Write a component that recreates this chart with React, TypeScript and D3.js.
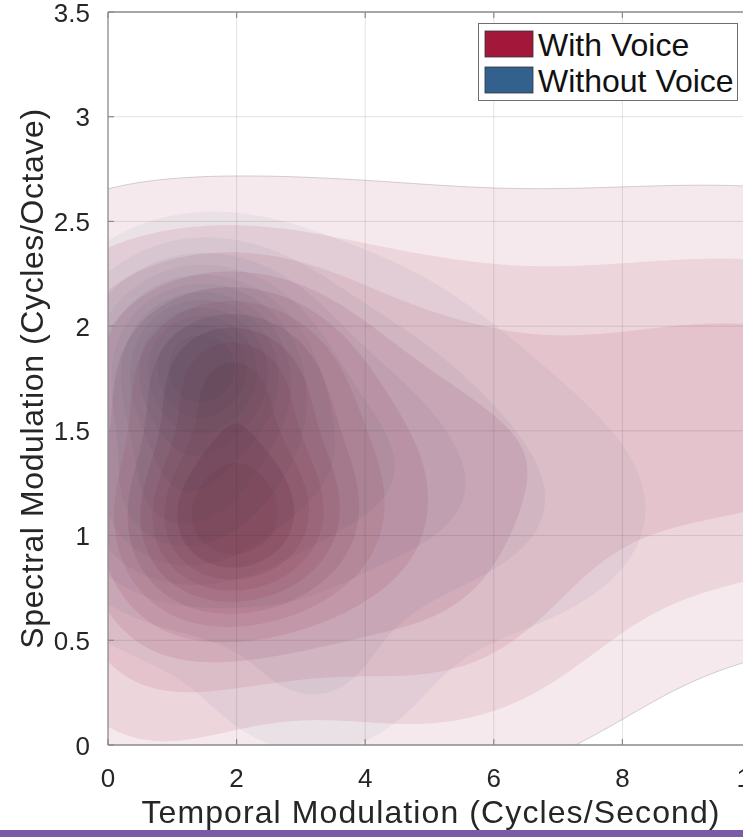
import React, { useMemo } from "react";
import * as d3 from "d3";

const W = 743;
const H = 837;

const xTicks = [0, 2, 4, 6, 8, 10];
const yTicks = [0, 0.5, 1, 1.5, 2, 2.5, 3, 3.5];
const yTickLabels = ["0", "0.5", "1", "1.5", "2", "2.5", "3", "3.5"];

const seriesNames = ["With Voice", "Without Voice"];
const seriesColors = ["#A3173B", "#33618D"];
const seriesAlpha = [0.095, 0.06];

// Kernel components of each density: centre, spread and weight
const withVoiceCx = [1.9, 1.9, 2.5, 6.0, 5.0, 0.5, 11.0, 0.0];
const withVoiceCy = [1.06, 1.8, 1.45, 1.5, 0.55, 0.45, 1.65, 2.0];
const withVoiceSx = [1.15, 1.05, 2.0, 5.0, 2.0, 1.5, 2.5, 1.5];
const withVoiceSy = [0.31, 0.28, 0.6, 0.72, 0.5, 0.55, 0.6, 0.45];
const withVoiceW = [1.0, 0.62, 0.32, 0.36, 0.25, 0.25, 0.2, 0.13];

const withoutVoiceCx = [1.4, 0.9, 2.5, 6.0, 3.2];
const withoutVoiceCy = [1.86, 1.15, 1.45, 1.1, 0.3];
const withoutVoiceSx = [0.95, 1.1, 2.2, 2.2, 1.2];
const withoutVoiceSy = [0.27, 0.33, 0.55, 0.45, 0.3];
const withoutVoiceW = [1.0, 0.42, 0.45, 0.15, 0.15];

// Contour levels as fractions of each density's peak
const levelFractions = [0.07, 0.145, 0.22, 0.295, 0.37, 0.445, 0.52, 0.595, 0.67, 0.745, 0.82, 0.895];

const margin = { left: 108, top: 12, bottom: 92 };
const xDomain = [0, 10];
const yDomain = [0, 3.5];

const grid = { x0: -2, x1: 14, y0: -0.8, y1: 4.2, dx: 0.04, dy: 0.015 };

type Comp = { cx: number[]; cy: number[]; sx: number[]; sy: number[]; w: number[] };

const components: Comp[] = [
  { cx: withVoiceCx, cy: withVoiceCy, sx: withVoiceSx, sy: withVoiceSy, w: withVoiceW },
  { cx: withoutVoiceCx, cy: withoutVoiceCy, sx: withoutVoiceSx, sy: withoutVoiceSy, w: withoutVoiceW },
];

function densityGrid(c: Comp, nx: number, ny: number) {
  const values = new Float64Array(nx * ny);
  for (let j = 0; j < ny; j++) {
    const yv = grid.y0 + j * grid.dy;
    for (let i = 0; i < nx; i++) {
      const xv = grid.x0 + i * grid.dx;
      let s = 0;
      for (let k = 0; k < c.cx.length; k++) {
        const ux = (xv - c.cx[k]) / c.sx[k];
        const uy = (yv - c.cy[k]) / c.sy[k];
        s += c.w[k] * Math.exp(-0.5 * (ux * ux + uy * uy));
      }
      values[j * nx + i] = s;
    }
  }
  return values;
}

export default function App() {
  const x = d3.scaleLinear().domain(xDomain).range([margin.left, 751]);
  const y = d3.scaleLinear().domain(yDomain).range([H - margin.bottom, margin.top]);
  const plotRight = W;
  const plotBottom = H - margin.bottom;

  const layers = useMemo(() => {
    const nx = Math.round((grid.x1 - grid.x0) / grid.dx) + 1;
    const ny = Math.round((grid.y1 - grid.y0) / grid.dy) + 1;
    const transform = d3.geoTransform({
      point(px: number, py: number) {
        (this as any).stream.point(
          x(grid.x0 + (px - 0.5) * grid.dx),
          y(grid.y0 + (py - 0.5) * grid.dy)
        );
      },
    });
    const path = d3.geoPath(transform);
    return components.map((c, si) => {
      const values = densityGrid(c, nx, ny);
      const peak = d3.max(values) as number;
      const thresholds = levelFractions.map((f) => f * peak);
      const polys = d3.contours().size([nx, ny]).thresholds(thresholds)(Array.from(values));
      return polys.map((p, li) => ({ d: path(p as any) || "", level: li, series: si }));
    });
  }, []);

  const font = "'Liberation Sans', Arial, Helvetica, sans-serif";

  return (
    <svg width={W} height={H} style={{ position: "absolute", left: 0, top: 0, background: "#fff" }}>
      <defs>
        <clipPath id="plot-clip">
          <rect x={margin.left} y={margin.top} width={plotRight - margin.left} height={plotBottom - margin.top} />
        </clipPath>
      </defs>
      <rect x={margin.left} y={margin.top} width={plotRight - margin.left} height={plotBottom - margin.top} fill="#fff" />
      <g clipPath="url(#plot-clip)" style={{ isolation: "isolate" }}>
        {layers.map((ls, si) =>
          ls.map((l) => (
            <path
              key={`${si}-${l.level}`}
              d={l.d}
              fill={seriesColors[si]}
              fillOpacity={seriesAlpha[si]}
              style={{ mixBlendMode: "multiply" }}
            />
          ))
        )}
        {layers[0].length > 0 && (
          <path d={layers[0][0].d} fill="none" stroke="#7a7a7a" strokeOpacity={0.55} strokeWidth={0.6} />
        )}
        {xTicks.slice(1).map((t) => (
          <line key={`gx${t}`} x1={x(t)} x2={x(t)} y1={margin.top} y2={plotBottom} stroke="#262626" strokeOpacity={0.13} strokeWidth={1} />
        ))}
        {yTicks.slice(1, -1).map((t) => (
          <line key={`gy${t}`} x1={margin.left} x2={plotRight} y1={y(t)} y2={y(t)} stroke="#262626" strokeOpacity={0.13} strokeWidth={1} />
        ))}
      </g>

      {/* axes box */}
      <line x1={margin.left} x2={margin.left} y1={margin.top} y2={plotBottom} stroke="#8a8a8a" strokeWidth={1.3} />
      <line x1={margin.left} x2={plotRight} y1={plotBottom} y2={plotBottom} stroke="#8a8a8a" strokeWidth={1.3} />
      <line x1={margin.left} x2={plotRight} y1={margin.top} y2={margin.top} stroke="#8a8a8a" strokeWidth={1.3} />
      {xTicks.map((t) => (
        <g key={`xt${t}`}>
          <line x1={x(t)} x2={x(t)} y1={plotBottom} y2={plotBottom - 6} stroke="#8a8a8a" strokeWidth={1.2} />
          <line x1={x(t)} x2={x(t)} y1={margin.top} y2={margin.top + 6} stroke="#8a8a8a" strokeWidth={1.2} />
          <text x={x(t)} y={787} textAnchor="middle" fontFamily={font} fontSize={26} fill="#262626">
            {t}
          </text>
        </g>
      ))}
      {yTicks.map((t, i) => (
        <g key={`yt${t}`}>
          <line x1={margin.left} x2={margin.left + 6} y1={y(t)} y2={y(t)} stroke="#8a8a8a" strokeWidth={1.2} />
          <text x={90} y={y(t) + 9.5} textAnchor="end" fontFamily={font} fontSize={26} fill="#262626">
            {yTickLabels[i]}
          </text>
        </g>
      ))}

      <text x={431} y={823} textAnchor="middle" fontFamily={font} fontSize={32} letterSpacing={1.1} fill="#262626">
        Temporal Modulation (Cycles/Second)
      </text>
      <text
        transform={`translate(43, ${y(1.75)}) rotate(-90)`}
        textAnchor="middle"
        fontFamily={font}
        fontSize={32}
        letterSpacing={0.6}
        fill="#262626"
      >
        Spectral Modulation (Cycles/Octave)
      </text>

      {/* legend */}
      <rect x={478.5} y={23.5} width={259} height={77} fill="#fff" stroke="#6e6e6e" strokeWidth={1} />
      {seriesNames.map((n, i) => (
        <g key={n}>
          <rect x={485} y={31 + i * 36} width={48} height={26} fill={seriesColors[i]} stroke="#333" strokeWidth={0.8} />
          <text x={538} y={56 + i * 36} fontFamily={font} fontSize={32} fill="#111">
            {n}
          </text>
        </g>
      ))}

      <rect x={0} y={830} width={W} height={7} fill="#7B5BA6" />
    </svg>
  );
}
